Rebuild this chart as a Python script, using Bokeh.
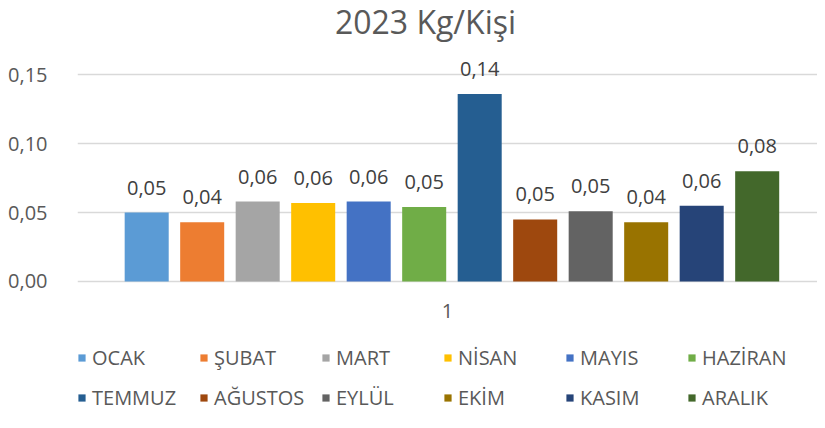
from bokeh.plotting import figure
from bokeh.models import (FactorRange, Range1d, FixedTicker, Legend, LegendItem,
                          ColumnDataSource)
from bokeh.transform import dodge
from bokeh.core.properties import value
from bokeh.embed import file_html
from bokeh.resources import INLINE

# ---- data ----
title_text = "2023 Kg/Kişi"
category = "1"
months = ["OCAK", "ŞUBAT", "MART", "NİSAN", "MAYIS", "HAZİRAN",
          "TEMMUZ", "AĞUSTOS", "EYLÜL", "EKİM", "KASIM", "ARALIK"]
values = [0.050, 0.043, 0.058, 0.057, 0.058, 0.054,
          0.136, 0.045, 0.051, 0.043, 0.055, 0.080]
value_labels = ["0,05", "0,04", "0,06", "0,06", "0,06", "0,05",
                "0,14", "0,05", "0,05", "0,04", "0,06", "0,08"]
colors = ["#5B9BD5", "#ED7D31", "#A5A5A5", "#FFC000", "#4472C4", "#70AD47",
          "#255E91", "#9E480E", "#636363", "#997300", "#264478", "#43682B"]
y_ticks = [0.0, 0.05, 0.10, 0.15]
y_tick_labels = ["0,00", "0,05", "0,10", "0,15"]

FONT = "Open Sans"
TXT = "#595959"

Y_END = 0.20392
p = figure(width=817, height=412, output_backend="svg", toolbar_location=None,
           x_range=FactorRange(category), y_range=Range1d(-0.09507, Y_END),
           min_border_left=77, min_border_right=0, min_border_top=0,
           min_border_bottom=0)
p.outline_line_color = None

# chart title (placed at the top of the plotting area)
p.text(x=[category], y=[Y_END], text=[title_text], text_align="center",
       text_baseline="middle", x_offset=-22, y_offset=21, text_font=value(FONT),
       text_font_size="32px", text_color=TXT)

n = len(months)
step = 0.075
bw = 0.0595
shift = 0.006
items = []
for i in range(n):
    src = ColumnDataSource(dict(cat=[category], val=[values[i]], lab=[value_labels[i]]))
    off = (i - (n - 1) / 2) * step + shift
    r = p.vbar(x=dodge("cat", off, range=p.x_range), top="val", width=bw,
               source=src, fill_color=colors[i], line_color=None)
    p.text(x=dodge("cat", off, range=p.x_range), y="val", text="lab", source=src,
           text_align="center", text_baseline="alphabetic", y_offset=-25,
           text_font=value(FONT), text_font_size="20px", text_color="#404040")
    items.append(LegendItem(label=months[i], renderers=[r]))

# category label under the baseline
p.text(x=[category], y=[0], text=[category], text_align="center",
       text_baseline="middle", y_offset=30, text_font=value(FONT),
       text_font_size="20px", text_color=TXT)

# axes
p.yaxis.ticker = FixedTicker(ticks=y_ticks)
p.yaxis.major_label_overrides = {t: l for t, l in zip(y_ticks, y_tick_labels)}
p.yaxis.axis_line_color = None
p.yaxis.major_tick_line_color = None
p.yaxis.minor_tick_line_color = None
p.yaxis.major_label_standoff = 24
p.yaxis.major_label_text_font = FONT
p.yaxis.major_label_text_font_size = "20px"
p.yaxis.major_label_text_color = TXT

p.xaxis.visible = False

p.xgrid.grid_line_color = None
p.ygrid.ticker = FixedTicker(ticks=y_ticks)
p.ygrid.grid_line_color = "#D9D9D9"
p.ygrid.grid_line_width = 1.5

legend = Legend(items=items, orientation="horizontal", ncols=6,
                location=(0, 1), glyph_width=9, glyph_height=9,
                label_standoff=6, label_width=94, label_height=24, spacing=13,
                padding=0, margin=0, border_line_color=None,
                background_fill_alpha=0, label_text_font=FONT,
                label_text_font_size="20px", label_text_color=TXT)
p.add_layout(legend, "center")

open("out.html", "w").write(file_html(p, INLINE))
